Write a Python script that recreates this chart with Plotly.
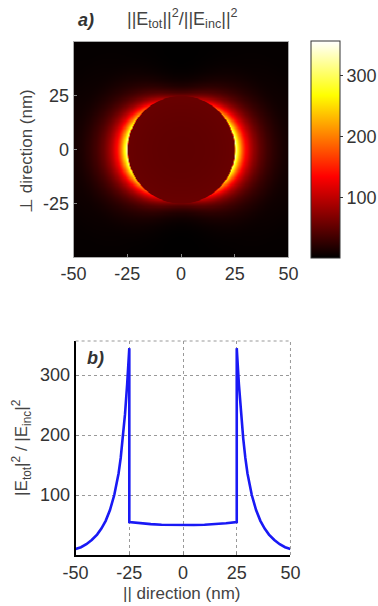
import numpy as np
import plotly.graph_objects as go

# ---- data ----
# panel b: field enhancement along the parallel direction
line_x = [-50, -47.5, -45, -42.5, -40, -38, -36, -34, -32, -30, -29, -28, -27, -26, -25,
          -25, -20, -15, -10, -5, 0, 5, 10, 15, 20, 25,
          25, 26, 27, 28, 29, 30, 32, 34, 36, 38, 40, 42.5, 45, 47.5, 50]
line_y = [10, 13, 18, 25, 34, 44, 57, 75, 100, 136, 162, 195, 235, 285, 345,
          55, 53, 51.5, 50.5, 50, 50, 50, 50.5, 51.5, 53, 55,
          345, 285, 235, 195, 162, 136, 100, 75, 57, 44, 34, 25, 18, 13, 10]

# panel a: radial profiles (outside the particle) along parallel / perpendicular directions
r_out = [25, 26, 27, 28, 29, 30, 32, 34, 36, 38, 40, 42.5, 45, 47.5, 50, 60, 71]
par_out = [345, 285, 235, 195, 162, 136, 100, 75, 57, 44, 34, 25, 18, 13, 10, 5, 3]
perp_out = [60, 45, 34, 26, 20, 15, 9, 5, 3, 1.5, 0.8, 0.4, 0.3, 0.4, 0.5, 0.7, 0.9]
# inside the particle
r_in = [0, 5, 10, 15, 20, 25]
val_in = [50, 50, 50.5, 51.5, 53, 55]

x_ticks = [-50, -25, 0, 25, 50]
x_tick_text = ["-50", "-25", "0", "25", "50"]
map_y_ticks = [-25, 0, 25]
map_y_text = ["-25", "0", "25"]
cbar_ticks = [100, 200, 300]
line_y_ticks = [100, 200, 300]
radius = 25
cmax = 357

# ---- build the map from the profiles ----
g = np.linspace(-50, 50, 401)
X, Y = np.meshgrid(g, g)
R = np.sqrt(X**2 + Y**2)
c2 = np.where(R > 0, X**2 / np.maximum(R, 1e-9)**2, 1.0)
Rc = np.maximum(R, radius)
out_val = c2 * np.interp(Rc, r_out, par_out) + (1 - c2) * np.interp(Rc, r_out, perp_out)
in_val = np.interp(R, r_in, val_in)
w = np.clip((R - radius) / 0.35 + 0.5, 0, 1)   # soft edge for anti-aliasing
Z = (1 - w) * in_val + w * out_val

hot = [[0, "rgb(0,0,0)"], [0.375, "rgb(255,0,0)"], [0.75, "rgb(255,255,0)"], [1, "rgb(255,255,255)"]]

W, H = 378, 606
def px(x): return x / W
def py(y): return 1 - y / H

FONT = "Liberation Sans, Arial"
fig = go.Figure()
fig.add_trace(go.Heatmap(
    x=g, y=g, z=Z, colorscale=hot, zmin=0, zmax=cmax, zsmooth="best",
    xaxis="x", yaxis="y",
    colorbar=dict(
        x=px(313), xanchor="left", xpad=0, y=py(149.5), yanchor="middle", ypad=0,
        thickness=29, thicknessmode="pixels", len=217 / H, lenmode="fraction",
        outlinecolor="#333", outlinewidth=1,
        tickvals=cbar_ticks, ticks="outside", ticklen=3, tickcolor="#333",
        tickfont=dict(family=FONT, size=18, color="#333"),
    ),
    hoverinfo="skip",
))
fig.add_trace(go.Scatter(
    x=line_x, y=line_y, mode="lines", xaxis="x2", yaxis="y2",
    line=dict(color="rgb(25,25,245)", width=2.6), hoverinfo="skip", showlegend=False,
))

tickfont = dict(family=FONT, size=18, color="#333")
fig.update_layout(
    width=W, height=H, margin=dict(l=0, r=0, t=0, b=0),
    paper_bgcolor="white", plot_bgcolor="white", showlegend=False,
    xaxis=dict(domain=[px(74), px(290)], anchor="y", range=[-50, 50],
               tickvals=x_ticks, ticktext=x_tick_text,
               showgrid=False, zeroline=False, showline=True, linecolor="#aaa", mirror=True,
               ticks="inside", ticklen=3, tickcolor="#888", tickfont=tickfont, automargin=False),
    yaxis=dict(domain=[py(257), py(42)], anchor="x", range=[-50, 50],
               tickvals=map_y_ticks, ticktext=map_y_text,
               showgrid=False, zeroline=False, showline=True, linecolor="#aaa", mirror=True,
               ticks="inside", ticklen=3, tickcolor="#888", tickfont=tickfont, automargin=False),
    xaxis2=dict(domain=[px(76), px(292)], anchor="y2", range=[-50, 50],
                tickvals=x_ticks, ticktext=x_tick_text,
                showgrid=True, gridcolor="#999", griddash="dot", gridwidth=1,
                zeroline=False, showline=True, linecolor="black", linewidth=2,
                ticks="inside", ticklen=3, tickcolor="#888", tickfont=tickfont, automargin=False),
    yaxis2=dict(domain=[py(555), py(341)], anchor="x2", range=[0, cmax], tickvals=line_y_ticks,
                showgrid=True, gridcolor="#999", griddash="dot", gridwidth=1,
                zeroline=False, showline=True, linecolor="black", linewidth=2,
                ticks="inside", ticklen=3, tickcolor="#888", tickfont=tickfont, automargin=False),
)

# dotted top/right frame of panel b
fig.add_shape(type="line", xref="x2 domain", yref="y2 domain", x0=0, x1=1, y0=1, y1=1,
              line=dict(color="#999", width=1, dash="dot"))
fig.add_shape(type="line", xref="x2 domain", yref="y2 domain", x0=1, x1=1, y0=0, y1=1,
              line=dict(color="#999", width=1, dash="dot"))

tfont = dict(family=FONT, size=17, color="#444")
def ann(x, y, text, font, angle=0):
    fig.add_annotation(xref="paper", yref="paper", x=px(x), y=py(y), text=text,
                       xanchor="center", yanchor="middle", textangle=angle,
                       showarrow=False, font=font)

ann(86, 20, "<b><i>a)</i></b>", dict(family=FONT, size=18, color="#333"))
ann(183, 19, "||E<sub>tot</sub>||<sup>2</sup>/||E<sub>inc</sub>||<sup>2</sup>", dict(family=FONT, size=18, color="#444"))
ann(27, 151, "⊥ direction (nm)", tfont, -90)
ann(96, 358, "<b><i>b)</i></b>", dict(family=FONT, size=18, color="#333"))
ann(21, 447, "|E<sub>tot</sub>|<sup>2</sup> / |E<sub>inc</sub>|<sup>2</sup>", tfont, -90)
ann(182, 593, "|| direction (nm)", tfont)

fig.write_html("out.html")
